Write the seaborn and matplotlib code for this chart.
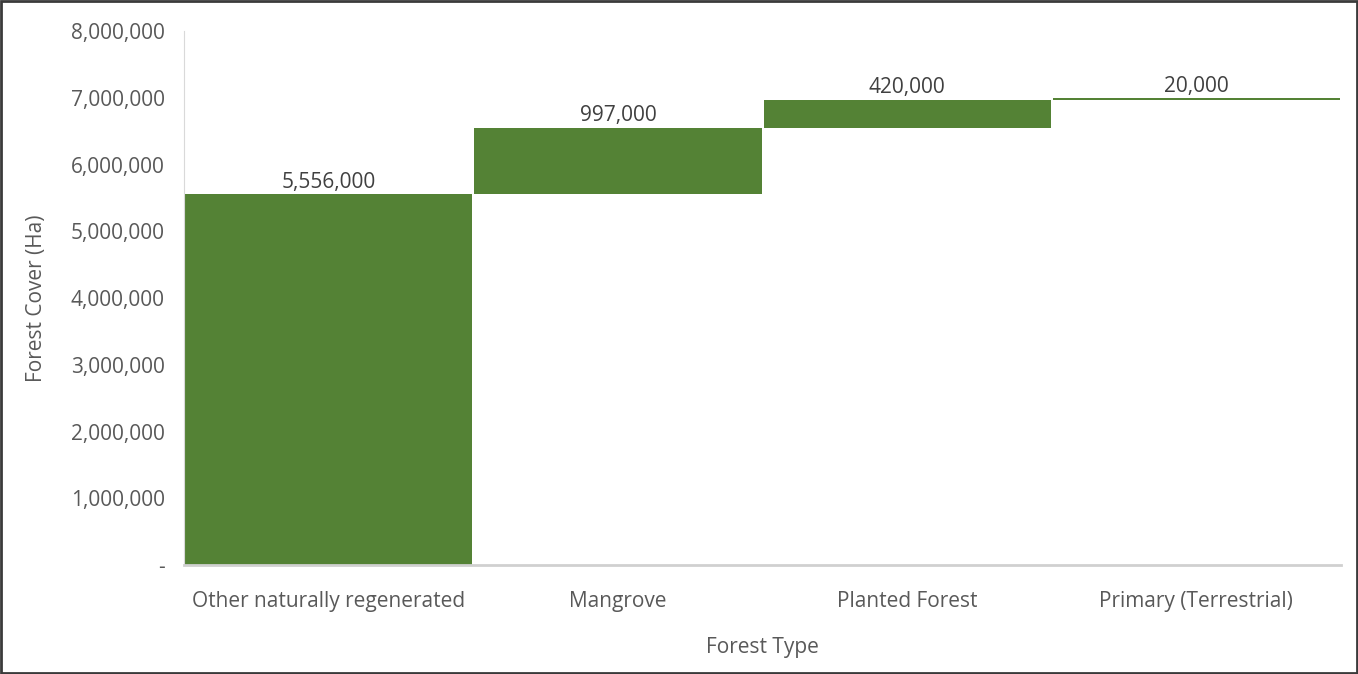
import matplotlib
matplotlib.use("Agg")
import matplotlib.pyplot as plt
from matplotlib.patches import Rectangle
from matplotlib.ticker import FuncFormatter, MultipleLocator
import seaborn as sns
import pandas as pd
import numpy as np

# Forest cover by type (hectares)
forest_types = ["Other naturally regenerated", "Mangrove", "Planted Forest", "Primary (Terrestrial)"]
cover_ha = [5556000, 997000, 420000, 20000]
value_labels = ["5,556,000", "997,000", "420,000", "20,000"]

# Waterfall: each step starts where the previous one ended
bases = list(np.concatenate([[0], np.cumsum(cover_ha)[:-1]]))
df = pd.DataFrame({"Forest Type": forest_types, "Cover": cover_ha, "Base": bases})

sns.set_theme(style="white")
plt.rcParams["font.family"] = ["Open Sans", "DejaVu Sans"]

text_grey = "#595959"
bar_green = "#548235"
fs = 15

fig = plt.figure(figsize=(13.58, 6.74), dpi=100)
ax = fig.add_axes([0.1355, 0.1617, 0.852, 0.7923])

sns.barplot(data=df, x="Forest Type", y="Cover", bottom=df["Base"].values,
            color=bar_green, saturation=1, width=0.993, edgecolor="none",
            errorbar=None, ax=ax)

for i, (b, v, lab) in enumerate(zip(bases, cover_ha, value_labels)):
    ax.annotate(lab, xy=(i, b + v), xytext=(0, 4.5), textcoords="offset points",
                ha="center", va="baseline", fontsize=fs, color="#404040")

ax.set_xlim(-0.5, 3.5)
ax.set_ylim(0, 8000000)
ax.yaxis.set_major_locator(MultipleLocator(1000000))
ax.yaxis.set_major_formatter(FuncFormatter(lambda v, p: "-" if v == 0 else f"{v:,.0f}"))

ax.set_xlabel("Forest Type", fontsize=fs, color=text_grey, labelpad=18)
ax.set_ylabel("Forest Cover (Ha)", fontsize=fs, color=text_grey, labelpad=17)
ax.tick_params(axis="x", length=0, pad=18.5, labelsize=fs, labelcolor=text_grey)
ax.tick_params(axis="y", length=0, pad=14, labelsize=fs, labelcolor=text_grey)

for side in ("top", "right"):
    ax.spines[side].set_visible(False)
ax.spines["left"].set_color("#d9d9d9")
ax.spines["left"].set_linewidth(0.8)
ax.spines["bottom"].set_color("#d0d0d0")
ax.spines["bottom"].set_linewidth(2)

# Frame around the whole figure
fig.patches.append(Rectangle((0.001, 0.001), 0.998, 0.997, transform=fig.transFigure,
                             fill=False, edgecolor="#3a3a3a", linewidth=2))

fig.savefig("out.png", dpi=100)
